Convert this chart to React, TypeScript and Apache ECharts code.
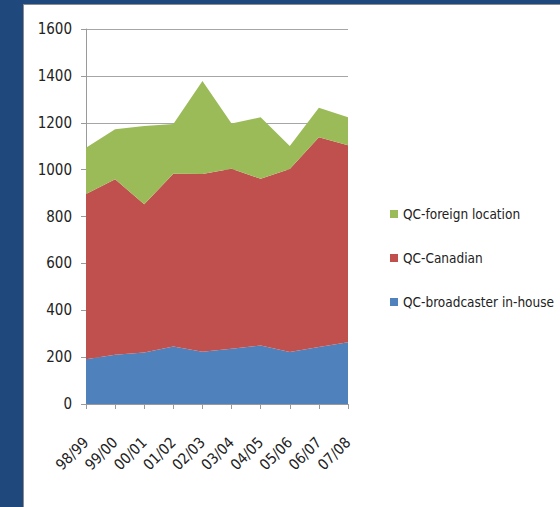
import React, { useEffect, useRef } from "react";
import * as echarts from "echarts";

const categories = ["98/99", "99/00", "00/01", "01/02", "02/03", "03/04", "04/05", "05/06", "06/07", "07/08"];
const broadcasterInHouse = [191, 210, 220, 245, 223, 236, 250, 222, 243, 263];
const canadian = [705, 749, 632, 737, 758, 768, 711, 781, 895, 841];
const foreignLocation = [197, 213, 334, 213, 397, 193, 262, 98, 126, 120];
const seriesNames = ["QC-broadcaster in-house", "QC-Canadian", "QC-foreign location"];
const yTicks = { min: 0, max: 1600, interval: 200 };

const FONT = "'Liberation Sans Narrow', 'DejaVu Sans Condensed', 'Open Sans', sans-serif";

export default function App() {
  const ref = useRef<HTMLDivElement>(null);
  useEffect(() => {
    if (!ref.current) return;
    const chart = echarts.init(ref.current, undefined, { renderer: "svg" });
    const mk = (name: string, data: number[], color: string) => ({
      name,
      type: "line",
      stack: "total",
      data,
      showSymbol: false,
      symbol: "none",
      lineStyle: { width: 0 },
      itemStyle: { color },
      areaStyle: { color, opacity: 1 },
    });
    chart.setOption({
      animation: false,
      backgroundColor: "transparent",
      textStyle: { fontFamily: FONT },
      grid: { left: 86, right: 212, top: 29, bottom: 103, containLabel: false },
      legend: {
        orient: "vertical",
        left: 385,
        top: 201,
        icon: "rect",
        itemWidth: 8,
        itemHeight: 8,
        itemGap: 28,
        data: [seriesNames[2], seriesNames[1], seriesNames[0]],
        textStyle: { fontFamily: FONT, fontSize: 13.5, color: "#222", lineHeight: 16 },
      },
      xAxis: {
        type: "category",
        boundaryGap: false,
        data: categories,
        axisLine: { lineStyle: { color: "#9a9a9a", width: 1 } },
        axisTick: { show: true, length: 5, lineStyle: { color: "#9a9a9a" } },
        axisLabel: { rotate: 45, margin: 36, fontFamily: FONT, fontSize: 15, color: "#222", interval: 0 },
        splitLine: { show: false },
      },
      yAxis: {
        type: "value",
        min: yTicks.min,
        max: yTicks.max,
        interval: yTicks.interval,
        axisLine: { show: true, lineStyle: { color: "#9a9a9a", width: 1 } },
        axisTick: { show: true, length: 5, lineStyle: { color: "#9a9a9a" } },
        axisLabel: {
          margin: 14,
          fontFamily: FONT,
          fontSize: 15,
          color: "#222",
          formatter: (v: number) => String(v),
        },
        splitLine: { show: true, lineStyle: { color: "#a6a6a6", width: 1 } },
      },
      series: [
        mk(seriesNames[0], broadcasterInHouse, "#4f81bd"),
        mk(seriesNames[1], canadian, "#c0504d"),
        mk(seriesNames[2], foreignLocation, "#9bbb59"),
      ],
    });
    return () => chart.dispose();
  }, []);
  return (
    <div style={{ position: "fixed", left: 0, top: 0, width: 560, height: 507, background: "#1f497d", overflow: "hidden" }}>
      <div
        style={{
          position: "absolute",
          left: 23,
          top: 4,
          right: 0,
          bottom: 0,
          background: "#ffffff",
          borderLeft: "1px solid #8c8c8c",
          borderTop: "1px solid #8c8c8c",
        }}
      />
      <div ref={ref} style={{ position: "absolute", left: 0, top: 0, width: 560, height: 507 }} />
    </div>
  );
}
